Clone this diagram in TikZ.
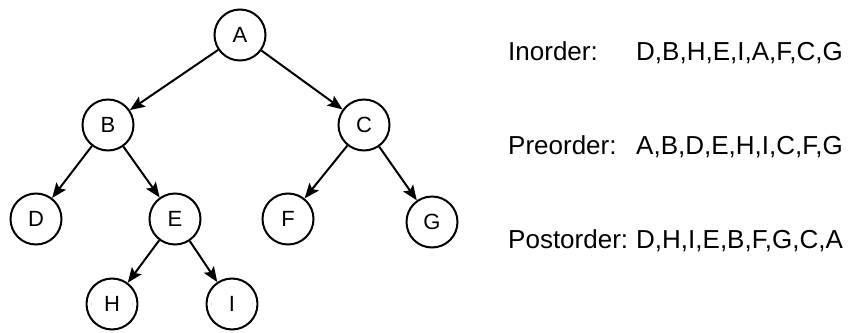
\documentclass[tikz,border=0pt]{standalone}
\usepackage{fontspec}
\setmainfont{Liberation Sans}
\usetikzlibrary{arrows.meta}
\newlength{\vertexsize}
\setlength{\vertexsize}{51pt}
\tikzset{vertex/.style = {shape=circle,draw,line width=2pt,minimum size=\vertexsize,inner sep=0pt,font=\fontsize{22}{26}\selectfont}}
\tikzset{edge/.style = {-{Stealth[length=15pt,width=12pt,inset=3pt]},line width=2pt}}
\tikzset{order/.style = {anchor=base west,inner sep=0pt,font=\fontsize{26}{30}\selectfont}}

\begin{document}
\begin{tikzpicture}[x=1pt,y=-1pt]
        \useasboundingbox (0,0) rectangle (851,332);
        \node[vertex] (a) at (240,35) {A};
        \node[vertex] (b) at (108,125) {B};
        \draw[edge] (a) to (b);
        \node[vertex] (c) at (364,125) {C};
        \draw[edge] (a) to (c);
        \node[vertex] (d) at (36,219) {D};
        \draw[edge] (b) to (d);
        \node[vertex] (e) at (175,219) {E};
        \draw[edge] (b) to (e);
        \node[vertex] (f) at (288,219) {F};
        \draw[edge] (c) to (f);
        \node[vertex] (g) at (432,222) {G};
        \draw[edge] (c) to (g);
        \node[vertex] (h) at (112,304) {H};
        \draw[edge] (e) to (h);
        \node[vertex] (i) at (232,304) {I};
        \draw[edge] (e) to (i);
        \node[order] (in) at (508,60) {Inorder:};
        \node[order] (inlist) at (636,60) {D,B,H,E,I,A,F,C,G};
        \node[order] (pre) at (508,154) {Preorder:};
        \node[order] (prelist) at (636,154) {A,B,D,E,H,I,C,F,G};
        \node[order] (post) at (508,248) {Postorder:};
        \node[order] (postlist) at (636,248) {D,H,I,E,B,F,G,C,A};
    \end{tikzpicture}
\end{document}
